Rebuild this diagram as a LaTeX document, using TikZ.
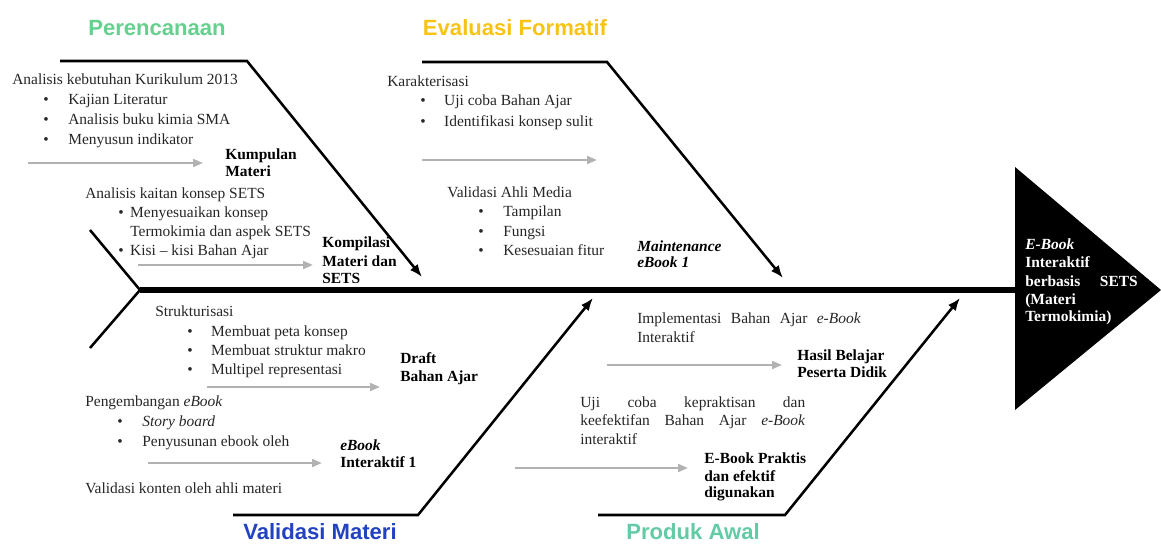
\documentclass[tikz,border=0pt]{standalone}
\usepackage{fontspec}
\setmainfont{Liberation Serif}
\newfontfamily\ttlfont{Liberation Sans}
\usetikzlibrary{arrows.meta}
\newcommand\bl[1]{\makebox[#1][l]{\textbullet}}
\newcommand\jb[2]{\makebox[#1][s]{#2}}
\definecolor{cPer}{HTML}{66D08F}
\definecolor{cEva}{HTML}{F7C315}
\definecolor{cVal}{HTML}{2242C2}
\definecolor{cPro}{HTML}{62CBA5}
\tikzset{
  txt/.style={anchor=base west, inner sep=0pt, font=\fontsize{11pt}{13pt}\selectfont, text=black!85},
  bt/.style={txt, font=\fontsize{11pt}{13pt}\selectfont\bfseries, text=black},
  hd/.style={txt, font=\fontsize{11pt}{13pt}\selectfont\bfseries, text=white},
  ttl/.style={inner sep=0pt, font=\ttlfont\bfseries\fontsize{15.7pt}{18pt}\selectfont},
  bone/.style={line width=1.8pt, line join=miter, -{Latex[length=9pt,width=7pt]}},
  plainbone/.style={line width=1.8pt},
  gar/.style={draw=gray!60, line width=1.6pt, -{Triangle[length=7pt,width=5.5pt]}},
}
\begin{document}
\begin{tikzpicture}[x=0.025cm,y=-0.025cm]
\path[use as bounding box] (0,0) rectangle (1161,545);
% spine and head
\coordinate (tail) at (140,290);
\coordinate (hl) at (1015,290);
\coordinate (ht) at (1015,167);
\coordinate (hb) at (1015,410);
\coordinate (tip) at (1161,290);
\coordinate (tu) at (90,230);
\coordinate (tl) at (90,348);
\draw[line width=3.6pt] (tail) -- (hl);
\fill[black] (ht) -- (tip) -- (hb) -- cycle;
\draw[plainbone] (tu) -- (tail) -- (tl);
% upper bones
\coordinate (pA) at (60,61);  \coordinate (pB) at (247,61);  \coordinate (pC) at (422,277);
\coordinate (eA) at (422,62); \coordinate (eB) at (607,62);  \coordinate (eC) at (783,278);
\draw[bone] (pA) -- (pB) -- (pC);
\draw[bone] (eA) -- (eB) -- (eC);
% lower bones
\coordinate (vA) at (233,515); \coordinate (vB) at (418,515); \coordinate (vC) at (593,298);
\coordinate (rA) at (598,515); \coordinate (rB) at (785,515); \coordinate (rC) at (960,298);
\draw[bone] (vA) -- (vB) -- (vC);
\draw[bone] (rA) -- (rB) -- (rC);
% titles
\node[ttl, text=cPer] (tPer) at (157,28) {Perencanaan};
\node[ttl, text=cEva] (tEva) at (515,28) {Evaluasi Formatif};
\node[ttl, text=cVal] (tVal) at (320,532) {Validasi Materi};
\node[ttl, text=cPro] (tPro) at (693,532) {Produk Awal};
% Perencanaan block
\node[txt] (t1) at (12,84) {Analisis kebutuhan Kurikulum 2013};
\node[txt] (t2) at (43,104) {\bl{17.8pt}Kajian Literatur};
\node[txt] (t3) at (43,124) {\bl{17.8pt}Analisis buku kimia SMA};
\node[txt] (t4) at (43,144) {\bl{17.8pt}Menyusun indikator};
\node[bt] (km1) at (225,159) {Kumpulan};
\node[bt] (km2) at (225,176) {Materi};
\node[txt] (t5) at (85,198) {Analisis kaitan konsep SETS};
\node[txt] (t6) at (118,217) {\bl{8.5pt}Menyesuaikan konsep};
\node[txt] (t7) at (130,236) {Termokimia dan aspek SETS};
\node[txt] (t8) at (118,255) {\bl{8.5pt}Kisi – kisi Bahan Ajar};
\node[bt] (ko1) at (322,247) {Kompilasi};
\node[bt] (ko2) at (322,266) {Materi dan};
\node[bt] (ko3) at (322,283) {SETS};
\coordinate (g1a) at (28,163); \coordinate (g1b) at (203,163);
\coordinate (g2a) at (138,265); \coordinate (g2b) at (313,265);
\draw[gar] (g1a) -- (g1b);
\draw[gar] (g2a) -- (g2b);
% Evaluasi block
\node[txt] (e1) at (387,86) {Karakterisasi};
\node[txt] (e2) at (420,105) {\bl{17pt}Uji coba Bahan Ajar};
\node[txt] (e3) at (420,126) {\bl{17pt}Identifikasi konsep sulit};
\node[txt] (e4) at (447,197) {Validasi Ahli Media};
\node[txt] (e5) at (478,216) {\bl{17.8pt}Tampilan};
\node[txt] (e6) at (478,236) {\bl{17.8pt}Fungsi};
\node[txt] (e7) at (478,255) {\bl{17.8pt}Kesesuaian fitur};
\node[bt] (m1) at (637,251) {\textit{Maintenance}};
\node[bt] (m2) at (637,267) {\textit{eBook 1}};
\coordinate (g3a) at (422,160); \coordinate (g3b) at (597,160);
\draw[gar] (g3a) -- (g3b);
% Validasi block
\node[txt] (v1) at (155,316) {Strukturisasi};
\node[txt] (v2) at (187,336) {\bl{17pt}Membuat peta konsep};
\node[txt] (v3) at (187,355) {\bl{17pt}Membuat struktur makro};
\node[txt] (v4) at (187,374) {\bl{17pt}Multipel representasi};
\node[bt] (d1) at (400,363) {Draft};
\node[bt] (d2) at (400,381) {Bahan Ajar};
\node[txt] (v5) at (85,406) {Pengembangan \textit{eBook}};
\node[txt] (v6) at (117,426) {\bl{17.8pt}\textit{Story board}};
\node[txt] (v7) at (117,446) {\bl{17.8pt}Penyusunan ebook oleh};
\node[bt] (eb1) at (340,450) {\textit{eBook}};
\node[bt] (eb2) at (340,467) {Interaktif 1};
\node[txt] (v8) at (85,493) {Validasi konten oleh ahli materi};
\coordinate (g4a) at (207,387); \coordinate (g4b) at (380,387);
\coordinate (g5a) at (148,463); \coordinate (g5b) at (322,463);
\draw[gar] (g4a) -- (g4b);
\draw[gar] (g5a) -- (g5b);
% Produk block
\node[txt] (i1) at (637,323) {\jb{159pt}{Implementasi Bahan Ajar \textit{e-Book}}};
\node[txt] (i2) at (637,342) {Interaktif};
\node[bt] (h1) at (797,360) {Hasil Belajar};
\node[bt] (h2) at (797,377) {Peserta Didik};
\node[txt] (u1) at (580,407) {\jb{160pt}{Uji coba kepraktisan dan}};
\node[txt] (u2) at (580,425) {\jb{160pt}{keefektifan Bahan Ajar \textit{e-Book}}};
\node[txt] (u3) at (580,444) {interaktif};
\node[bt] (pr1) at (704,463) {E-Book Praktis};
\node[bt] (pr2) at (704,481) {dan efektif};
\node[bt] (pr3) at (704,497) {digunakan};
\coordinate (g6a) at (607,365); \coordinate (g6b) at (782,365);
\coordinate (g7a) at (515,468); \coordinate (g7b) at (688,468);
\draw[gar] (g6a) -- (g6b);
\draw[gar] (g7a) -- (g7b);
% head text
\node[hd] (hd1) at (1025,249) {\textit{E-Book}};
\node[hd] (hd2) at (1025,267) {Interaktif};
\node[hd] (hd3) at (1025,286) {\jb{80pt}{berbasis SETS}};
\node[hd] (hd4) at (1025,304) {(Materi};
\node[hd] (hd5) at (1025,321) {Termokimia)};
\end{tikzpicture}
\end{document}
